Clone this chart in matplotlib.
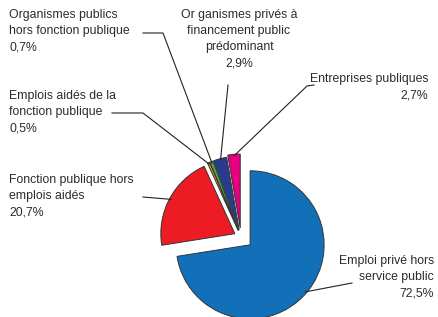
import matplotlib as mpl
import matplotlib.pyplot as plt
import numpy as np

mpl.rcParams["font.family"] = ["Liberation Sans", "DejaVu Sans"]

# données
categories = ["Emploi privé hors\nservice public",
              "Fonction publique hors\nemplois aidés",
              "Emplois aidés de la\nfonction publique",
              "Organismes publics\nhors fonction publique",
              "Or ganismes privés à\nfinancement public\nprédominant",
              "Entreprises publiques"]
values = [72.5, 20.7, 0.5, 0.7, 2.9, 2.7]
colors = ["#1270b9", "#ed1c24", "#f58220", "#3ab54a", "#2a3a8f", "#e6007e"]
explode = [12, 7, 7, 7, 7, 9]

W, H = 438, 317
fig = plt.figure(figsize=(W / 100, H / 100), dpi=100)
ax = fig.add_axes([0, 0, 1, 1])

wedges, _ = ax.pie(values, colors=colors, explode=explode, radius=74,
                   center=(241, H - 237), startangle=90, counterclock=False,
                   wedgeprops=dict(edgecolor="#333333", linewidth=0.7))
ax.set_xlim(0, W)
ax.set_ylim(0, H)
ax.set_aspect("equal")
ax.axis("off")

# position des étiquettes (coordonnées image) : texte, alignement, coudes
layout = [
    ((434, 255), "right", [(352, 283)]),
    ((9, 174), "left", [(143, 197)]),
    ((9, 90), "left", [(112, 113), (143, 113)]),
    ((9, 9), "left", [(143, 33), (163, 33)]),
    ((239, 9), "center", [(228, 85)]),
    ((428, 73), "right", [(314, 85), (307, 86)]),
]

for w, cat, val, (txy, ha, pts) in zip(wedges, categories, values, layout):
    label = cat + "\n" + ("%.1f%%" % val).replace(".", ",")
    ax.text(txy[0], H - txy[1], label, ha=ha, va="top", multialignment=ha,
            fontsize=8.8, color="#2b2b2b", linespacing=1.47)
    mid = np.deg2rad((w.theta1 + w.theta2) / 2)
    cx, cy = w.center
    ax_x = cx + 0.98 * w.r * np.cos(mid)
    ax_y = cy + 0.98 * w.r * np.sin(mid)
    xs = [p[0] for p in pts] + [ax_x]
    ys = [H - p[1] for p in pts] + [ax_y]
    ax.plot(xs, ys, color="#222222", lw=0.8)

plt.savefig("out.png", dpi=100)
